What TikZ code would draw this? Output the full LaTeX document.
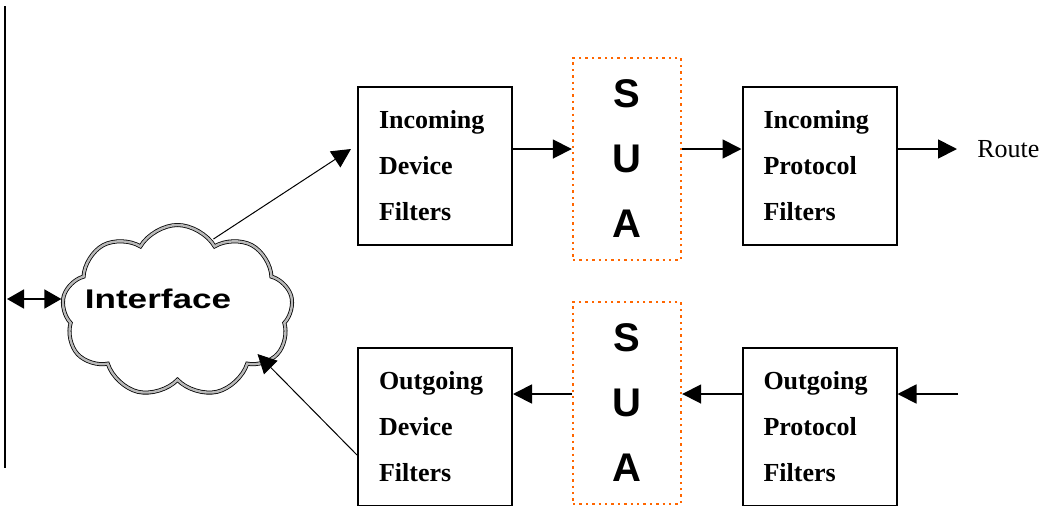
\documentclass[tikz,border=0pt]{standalone}
\usepackage{fontspec}
\setmainfont{Liberation Serif}
\setsansfont{Liberation Sans}
\usepackage{tikz}
\usetikzlibrary{arrows.meta}
\usetikzlibrary{shapes.symbols}
\definecolor{suaorange}{RGB}{255,102,0}

\begin{document}
\begin{tikzpicture}[x=0.5pt,y=0.5pt,yscale=-1,xscale=1,
  filterbox/.style={draw,line width=1pt,minimum width=77pt,minimum height=79pt,
    text width=56pt,inner xsep=10.5pt,align=left,
    font=\bfseries\fontsize{13}{23}\selectfont},
  suabox/.style={draw=suaorange,dotted,line width=1.2pt,minimum width=54pt,minimum height=101pt,
    align=center,font=\sffamily\bfseries\fontsize{20}{32.5}\selectfont},
  flow/.style={line width=0.9pt,-{Triangle[length=9.5pt,width=9.5pt]}},
  thin flow/.style={line width=0.5pt,-{Triangle[length=9.5pt,width=9.5pt]}}]
\useasboundingbox (0,0) rectangle (1041,505);
\clip (0,0) rectangle (1041,505);

%Straight Lines (wall)
\coordinate (wtop) at (5,6);
\coordinate (wbot) at (5,468);
\draw [line width=1pt] (wtop) -- (wbot);

%Shape: Cloud
\node (cloud) [cloud,cloud puffs=9,cloud puff arc=120,cloud ignores aspect,draw,line width=0.4pt,
  double=gray!55,double distance=1.2pt,minimum width=115.5pt,minimum height=86pt,inner sep=0pt]
  at (177.5,311) {};
% Text Node
\node (iface) at (158,299) {\sffamily\bfseries\fontsize{13.5}{16}\selectfont\addfontfeature{FakeStretch=1.3}Interface};

%Shape: Rectangle
\node (indev) [filterbox] at (435,166) {Incoming\\Device\\Filters};
\node (insua) [suabox] at (627,159) {S\\U\\A};
\node (inproto) [filterbox] at (819.5,166) {Incoming\\Protocol\\Filters};
\node (outdev) [filterbox] at (435,427) {Outgoing\\Device\\Filters};
\node (outsua) [suabox] at (627,403) {S\\U\\A};
\node (outproto) [filterbox] at (819.5,427) {Outgoing\\Protocol\\Filters};

% Text Node
\node (route) [anchor=west,inner sep=0pt,font=\fontsize{13}{16}\selectfont] at (977,149) {Route};

\coordinate (toprow) at (0,149);
\coordinate (botrow) at (0,394);
\coordinate (midrow) at (0,299);
\coordinate (fromproto) at (958,394);

%Straight Lines
\draw [line width=0.9pt,{Triangle[length=8.5pt,width=9.5pt]}-{Triangle[length=8.5pt,width=9.5pt]}]
  ([xshift=1pt]wtop |- midrow) -- ([xshift=-1pt]cloud.west |- midrow);
\draw [thin flow] ([xshift=18pt,yshift=-36pt]cloud.center) -- ([xshift=-3pt]indev.west |- toprow);
\draw [flow] (indev.east |- toprow) -- (insua.west |- toprow);
\draw [flow] (insua.east |- toprow) -- (inproto.west |- toprow);
\draw [flow] (inproto.east |- toprow) -- ([xshift=-10pt]route.west);

\draw [flow] (fromproto) -- (outproto.east |- botrow);
\draw [flow] (outproto.west |- botrow) -- (outsua.east |- botrow);
\draw [flow] (outsua.west |- botrow) -- (outdev.east |- botrow);
\draw [thin flow] ([yshift=14pt]outdev.west) -- ([xshift=40pt,yshift=21.5pt]cloud.center);

\end{tikzpicture}
\end{document}
